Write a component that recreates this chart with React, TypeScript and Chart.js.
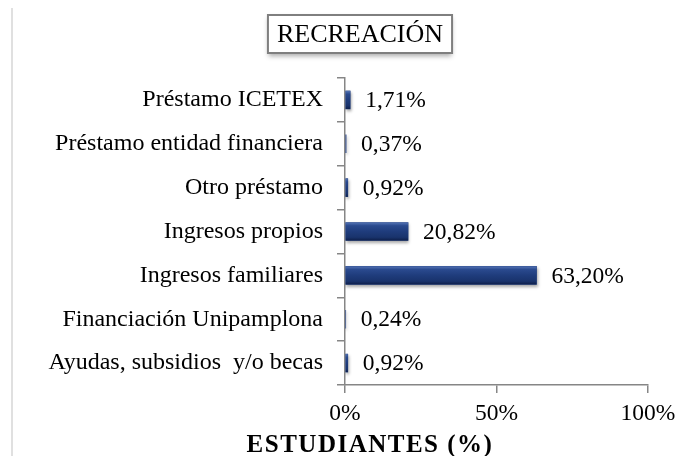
import React, { useEffect, useRef } from "react";
import { Chart, registerables } from "chart.js";

Chart.register(...registerables);

const categories = [
  "Préstamo ICETEX",
  "Préstamo entidad financiera",
  "Otro préstamo",
  "Ingresos propios",
  "Ingresos familiares",
  "Financiación Unipamplona",
  "Ayudas, subsidios  y/o becas",
];
const values = [1.71, 0.37, 0.92, 20.82, 63.2, 0.24, 0.92];
const xTicks = [0, 50, 100];
const chartTitle = "RECREACIÓN";
const axisTitle = "ESTUDIANTES (%)";

const FONT = "'Liberation Serif', 'Times New Roman', serif";
const fmt = (v: number) => v.toFixed(2).replace(".", ",") + "%";

export default function App() {
  const ref = useRef<HTMLCanvasElement | null>(null);

  useEffect(() => {
    if (!ref.current) return;

    const decor = {
      id: "decor",
      beforeDatasetsDraw(chart: any) {
        const ctx = chart.ctx;
        ctx.save();
        ctx.shadowColor = "rgba(0,0,0,0.35)";
        ctx.shadowOffsetY = 2;
        ctx.shadowOffsetX = 1;
        ctx.shadowBlur = 3;
      },
      afterDatasetsDraw(chart: any) {
        const ctx = chart.ctx;
        ctx.restore();
        const meta = chart.getDatasetMeta(0);
        meta.data.forEach((bar: any, i: number) => {
          const left = Math.min(bar.base, bar.x);
          const w = Math.abs(bar.x - bar.base);
          const top = bar.y - bar.height / 2;
          const h = bar.height;
          if (w > 0.5) {
            const g = ctx.createLinearGradient(0, top, 0, top + h);
            g.addColorStop(0, "#5373b4");
            g.addColorStop(0.18, "#2a4a8e");
            g.addColorStop(0.5, "#1f3c7c");
            g.addColorStop(0.82, "#19336c");
            g.addColorStop(1, "#0e1f4a");
            ctx.save();
            ctx.fillStyle = g;
            ctx.fillRect(left, top, w, h);
            ctx.restore();
          }
          ctx.save();
          ctx.font = `23.5px ${FONT}`;
          ctx.fillStyle = "#000";
          ctx.textAlign = "left";
          ctx.textBaseline = "middle";
          ctx.fillText(fmt(values[i]), bar.x + 15, bar.y + 1);
          ctx.restore();
        });
      },
      afterDraw(chart: any) {
        const ctx = chart.ctx;
        const area = chart.chartArea;
        ctx.save();
        // left faint border
        ctx.fillStyle = "rgba(0,0,0,0.12)";
        ctx.fillRect(3, 0, 2, chart.height);
        // title box
        ctx.font = `26px ${FONT}`;
        const tw = ctx.measureText(chartTitle).width;
        const cx = 352;
        const cy = 26;
        const bw = tw + 18;
        const bh = 38;
        ctx.shadowColor = "rgba(0,0,0,0.35)";
        ctx.shadowBlur = 5;
        ctx.shadowOffsetY = 3;
        ctx.fillStyle = "#fff";
        ctx.fillRect(cx - bw / 2, cy - bh / 2, bw, bh);
        ctx.shadowColor = "transparent";
        ctx.strokeStyle = "#7f7f7f";
        ctx.lineWidth = 2;
        ctx.strokeRect(cx - bw / 2, cy - bh / 2, bw, bh);
        ctx.fillStyle = "#000";
        ctx.textAlign = "center";
        ctx.textBaseline = "middle";
        ctx.fillText(chartTitle, cx, cy + 1);
        // axis title
        ctx.font = `bold 25px ${FONT}`;
        (ctx as any).letterSpacing = "1.5px";
        ctx.fillText(axisTitle, 362, area.bottom + 61);
        ctx.restore();
      },
    };

    const chart = new Chart(ref.current, {
      type: "bar",
      data: {
        labels: categories,
        datasets: [
          {
            data: values,
            backgroundColor: "#1f3c7c",
            barThickness: 18,
            borderWidth: 0,
          },
        ],
      },
      options: {
        indexAxis: "y",
        animation: false,
        responsive: true,
        maintainAspectRatio: false,
        layout: { padding: { top: 70, right: 42, left: 0, bottom: 0 } },
        plugins: {
          legend: { display: false },
          tooltip: { enabled: false },
          title: { display: false },
        },
        scales: {
          x: {
            min: 0,
            max: 100,
            afterBuildTicks: (scale: any) => {
              scale.ticks = xTicks.map((v) => ({ value: v }));
            },
            afterFit: (scale: any) => {
              scale.height = 71;
            },
            ticks: {
              callback: (v: any) => v + "%",
              font: { family: FONT, size: 23.5 },
              color: "#000",
              padding: 7,
              maxRotation: 0,
            },
            grid: {
              drawOnChartArea: false,
              drawTicks: true,
              tickLength: 8,
              color: "#868686",
              lineWidth: 1.5,
            },
            border: { color: "#868686", width: 1.5 },
          },
          y: {
            afterFit: (scale: any) => {
              scale.width = 337;
            },
            ticks: {
              font: { family: FONT, size: 24 },
              color: "#000",
              padding: 14,
              autoSkip: false,
            },
            grid: {
              drawOnChartArea: false,
              drawTicks: true,
              tickLength: 8,
              color: "#868686",
              lineWidth: 1.5,
            },
            border: { color: "#868686", width: 1.5 },
          },
        },
      },
      plugins: [decor],
    });

    return () => chart.destroy();
  }, []);

  return (
    <div style={{ width: 682, height: 448, position: "relative" }}>
      <canvas ref={ref} />
    </div>
  );
}
